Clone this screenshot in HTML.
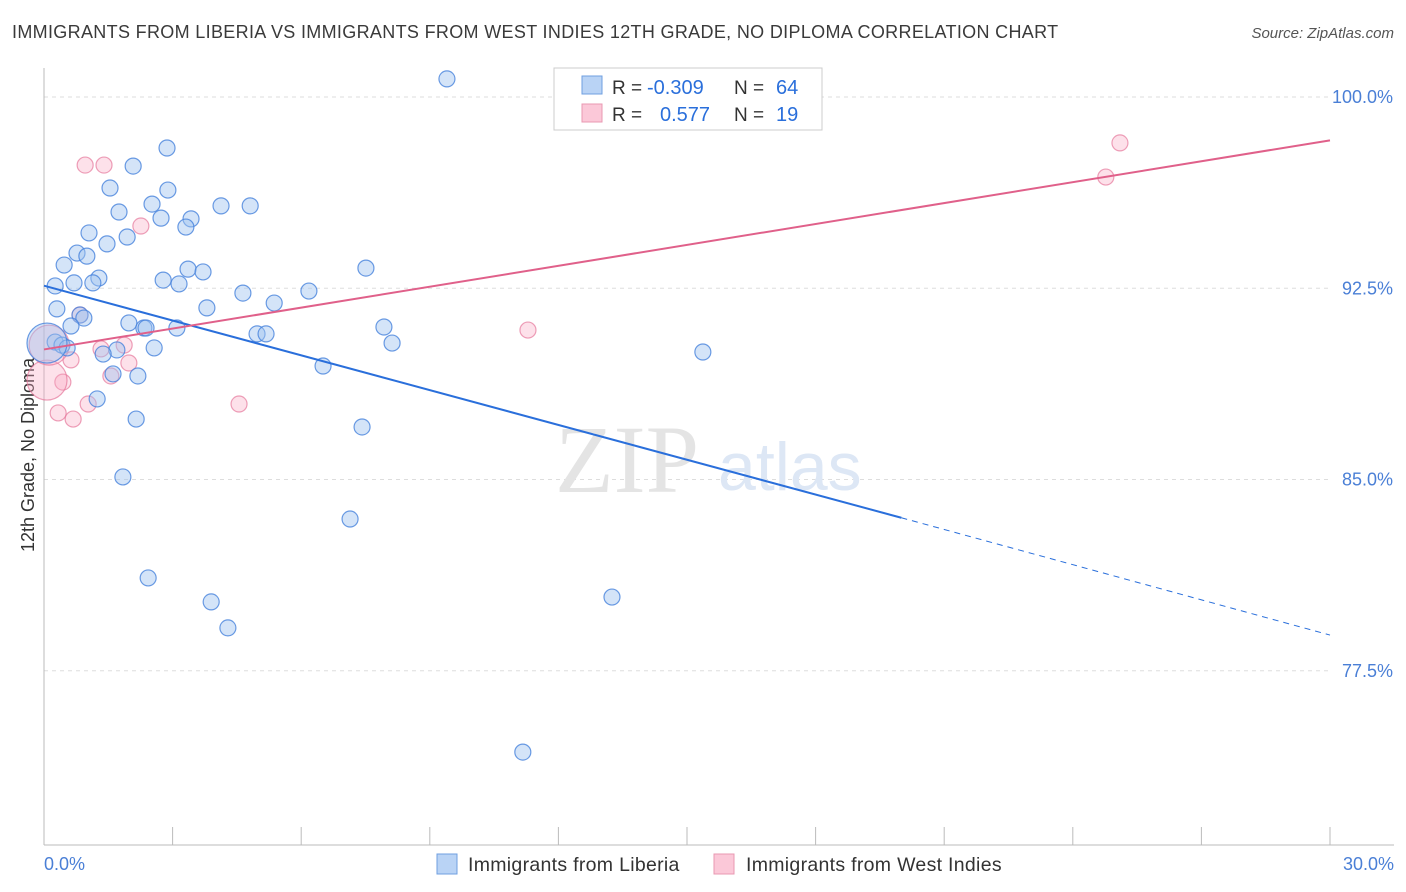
<!DOCTYPE html>
<html><head><meta charset="utf-8"><style>
body{margin:0;background:#fff;font-family:"Liberation Sans",sans-serif;}
#wrap{position:relative;width:1406px;height:892px;overflow:hidden}
.t{position:absolute;white-space:nowrap}
</style></head><body>
<div id="wrap">
<div class="t" style="left:12px;top:22px;font-size:18px;color:#3a3a3a;letter-spacing:0.33px">IMMIGRANTS FROM LIBERIA VS IMMIGRANTS FROM WEST INDIES 12TH GRADE, NO DIPLOMA CORRELATION CHART</div>
<div class="t" style="right:12px;top:25px;font-size:15px;color:#555;font-style:italic">Source: ZipAtlas.com</div>
<svg id="svg" width="1406" height="892" style="position:absolute;left:0;top:0"></svg>
</div>
<script>
const yTicks=[100,92.5,85,77.5];
const xTickLabels=["0.0%","30.0%"];
const bluePx=[[447,79],[167,148],[133,166],[110,188],[168,190],[152,204],[221,206],[250,206],[119,212],[161,218],[191,219],[186,227],[127,237],[89,233],[107,244],[77,253],[87,256],[64,265],[188,269],[203,272],[366,268],[99,278],[74,283],[93,283],[163,280],[179,284],[55,286],[243,293],[309,291],[274,303],[207,308],[57,309],[80,315],[84,318],[71,326],[129,323],[144,328],[146,328],[177,328],[257,334],[266,334],[384,327],[392,343],[55,342],[62,345],[67,348],[154,348],[117,350],[103,354],[323,366],[113,374],[138,376],[703,352],[97,399],[136,419],[362,427],[123,477],[350,519],[148,578],[612,597],[211,602],[228,628],[523,752],[47,343]];
const pinkPx=[[1120,143],[1106,177],[85,165],[104,165],[141,226],[528,330],[80,315],[71,360],[101,349],[124,345],[129,363],[111,376],[63,382],[47,380],[58,413],[73,419],[88,404],[239,404],[49,345]];
const blueXv=bluePx.map(p=>+((p[0]-44)/1286*30).toFixed(2));
const blueYv=bluePx.map(p=>+(100-(p[1]-97)/25.5).toFixed(2));
const pinkXv=pinkPx.map(p=>+((p[0]-44)/1286*30).toFixed(2));
const pinkYv=pinkPx.map(p=>+(100-(p[1]-97)/25.5).toFixed(2));
const blueLine=[[0,92.6],[20,83.5],[30,78.9]];
const pinkLine=[[0,90.1],[30,98.3]];
const X=v=>44+v/30*1286, Y=v=>97+(100-v)*25.5;
const s=document.getElementById('svg');const NS='http://www.w3.org/2000/svg';
function mk(t,a,p){const e=document.createElementNS(NS,t);for(const k in a)e.setAttribute(k,a[k]);(p||s).appendChild(e);return e;}
yTicks.forEach(v=>{const l=mk('line',{x1:44,x2:1330,y1:Y(v),y2:Y(v),stroke:'#ddd','stroke-dasharray':'4,4'});

const t=mk('text',{x:1393,y:Y(v)+6,'text-anchor':'end','font-size':18,fill:'#4a7fd6'});t.textContent=v.toFixed(1)+'%';
});
const ax=mk('line',{x1:44,x2:44,y1:68,y2:845,stroke:'#bbb'});
const bx=mk('line',{x1:44,x2:1394,y1:845,y2:845,stroke:'#bbb'});
for(let i=0;i<=10;i++){const l=mk('line',{x1:X(i*3),x2:X(i*3),y1:827,y2:845,stroke:'#bbb'});}
[[0,'start',44],[1,'end',1394]].forEach(([i,a,x])=>{const t=mk('text',{x:x,y:870,'text-anchor':a,'font-size':18,fill:'#4a7fd6'});t.textContent=xTickLabels[i];});
const yt=mk('text',{x:34,y:455,'text-anchor':'middle','font-size':18,fill:'#333',transform:'rotate(-90 34 455)'});yt.textContent='12th Grade, No Diploma';
const w1=mk('text',{x:555,y:492,'font-size':96,fill:'#e4e4e4','font-family':'Liberation Serif'});w1.textContent='ZIP';
const w2=mk('text',{x:718,y:490,'font-size':68,fill:'#dde7f5'});w2.textContent='atlas';
function dots(xs,ys,fill,stroke,name){xs.forEach((x,i)=>{const big=(x<0.2);const c=mk('circle',{cx:X(x),cy:Y(ys[i]),r:big?20:8,fill:fill,stroke:stroke,'stroke-width':1.2});});}
dots(pinkXv,pinkYv,'rgba(248,170,195,0.35)','rgba(230,120,155,0.7)','west-indies-point');
dots(blueXv,blueYv,'rgba(160,195,240,0.45)','rgba(70,130,220,0.8)','liberia-point');
let l=mk('line',{x1:X(blueLine[0][0]),y1:Y(blueLine[0][1]),x2:X(blueLine[1][0]),y2:Y(blueLine[1][1]),stroke:'#2a6fdb','stroke-width':2});
l=mk('line',{x1:X(blueLine[1][0]),y1:Y(blueLine[1][1]),x2:X(blueLine[2][0]),y2:Y(blueLine[2][1]),stroke:'#2a6fdb','stroke-width':1,'stroke-dasharray':'6,5'});
l=mk('line',{x1:X(pinkLine[0][0]),y1:Y(pinkLine[0][1]),x2:X(pinkLine[1][0]),y2:Y(pinkLine[1][1]),stroke:'#e0608a','stroke-width':2});
const g=mk('g',{});
mk('rect',{x:554,y:68,width:268,height:62,fill:'#fff',stroke:'#ccc'},g);
mk('rect',{x:582,y:76,width:20,height:18,fill:'#b9d3f5',stroke:'#6f9fe0'},g);
mk('rect',{x:582,y:104,width:20,height:18,fill:'#fbc8d8',stroke:'#e898b2'},g);
[['R = ','-0.309','N = ','64',94,647],['R = ','0.577','N = ','19',121,660]].forEach(r=>{
let t=mk('text',{x:612,y:r[4],'font-size':19,fill:'#333'},g);t.textContent=r[0];
t=mk('text',{x:r[5],y:r[4],'font-size':20,fill:'#2a6fdb'},g);t.textContent=r[1];
t=mk('text',{x:734,y:r[4],'font-size':19,fill:'#333'},g);t.textContent=r[2];
t=mk('text',{x:776,y:r[4],'font-size':20,fill:'#2a6fdb'},g);t.textContent=r[3];});
const lg=mk('g',{});
mk('rect',{x:437,y:854,width:20,height:20,fill:'#b9d3f5',stroke:'#6f9fe0'},lg);
let t=mk('text',{x:468,y:871,'font-size':19.5,fill:'#333','letter-spacing':'0.3'},lg);t.textContent='Immigrants from Liberia';
mk('rect',{x:714,y:854,width:20,height:20,fill:'#fbc8d8',stroke:'#e898b2'},lg);
t=mk('text',{x:746,y:871,'font-size':19.5,fill:'#333','letter-spacing':'0.3'},lg);t.textContent='Immigrants from West Indies';
</script>
</body></html>
